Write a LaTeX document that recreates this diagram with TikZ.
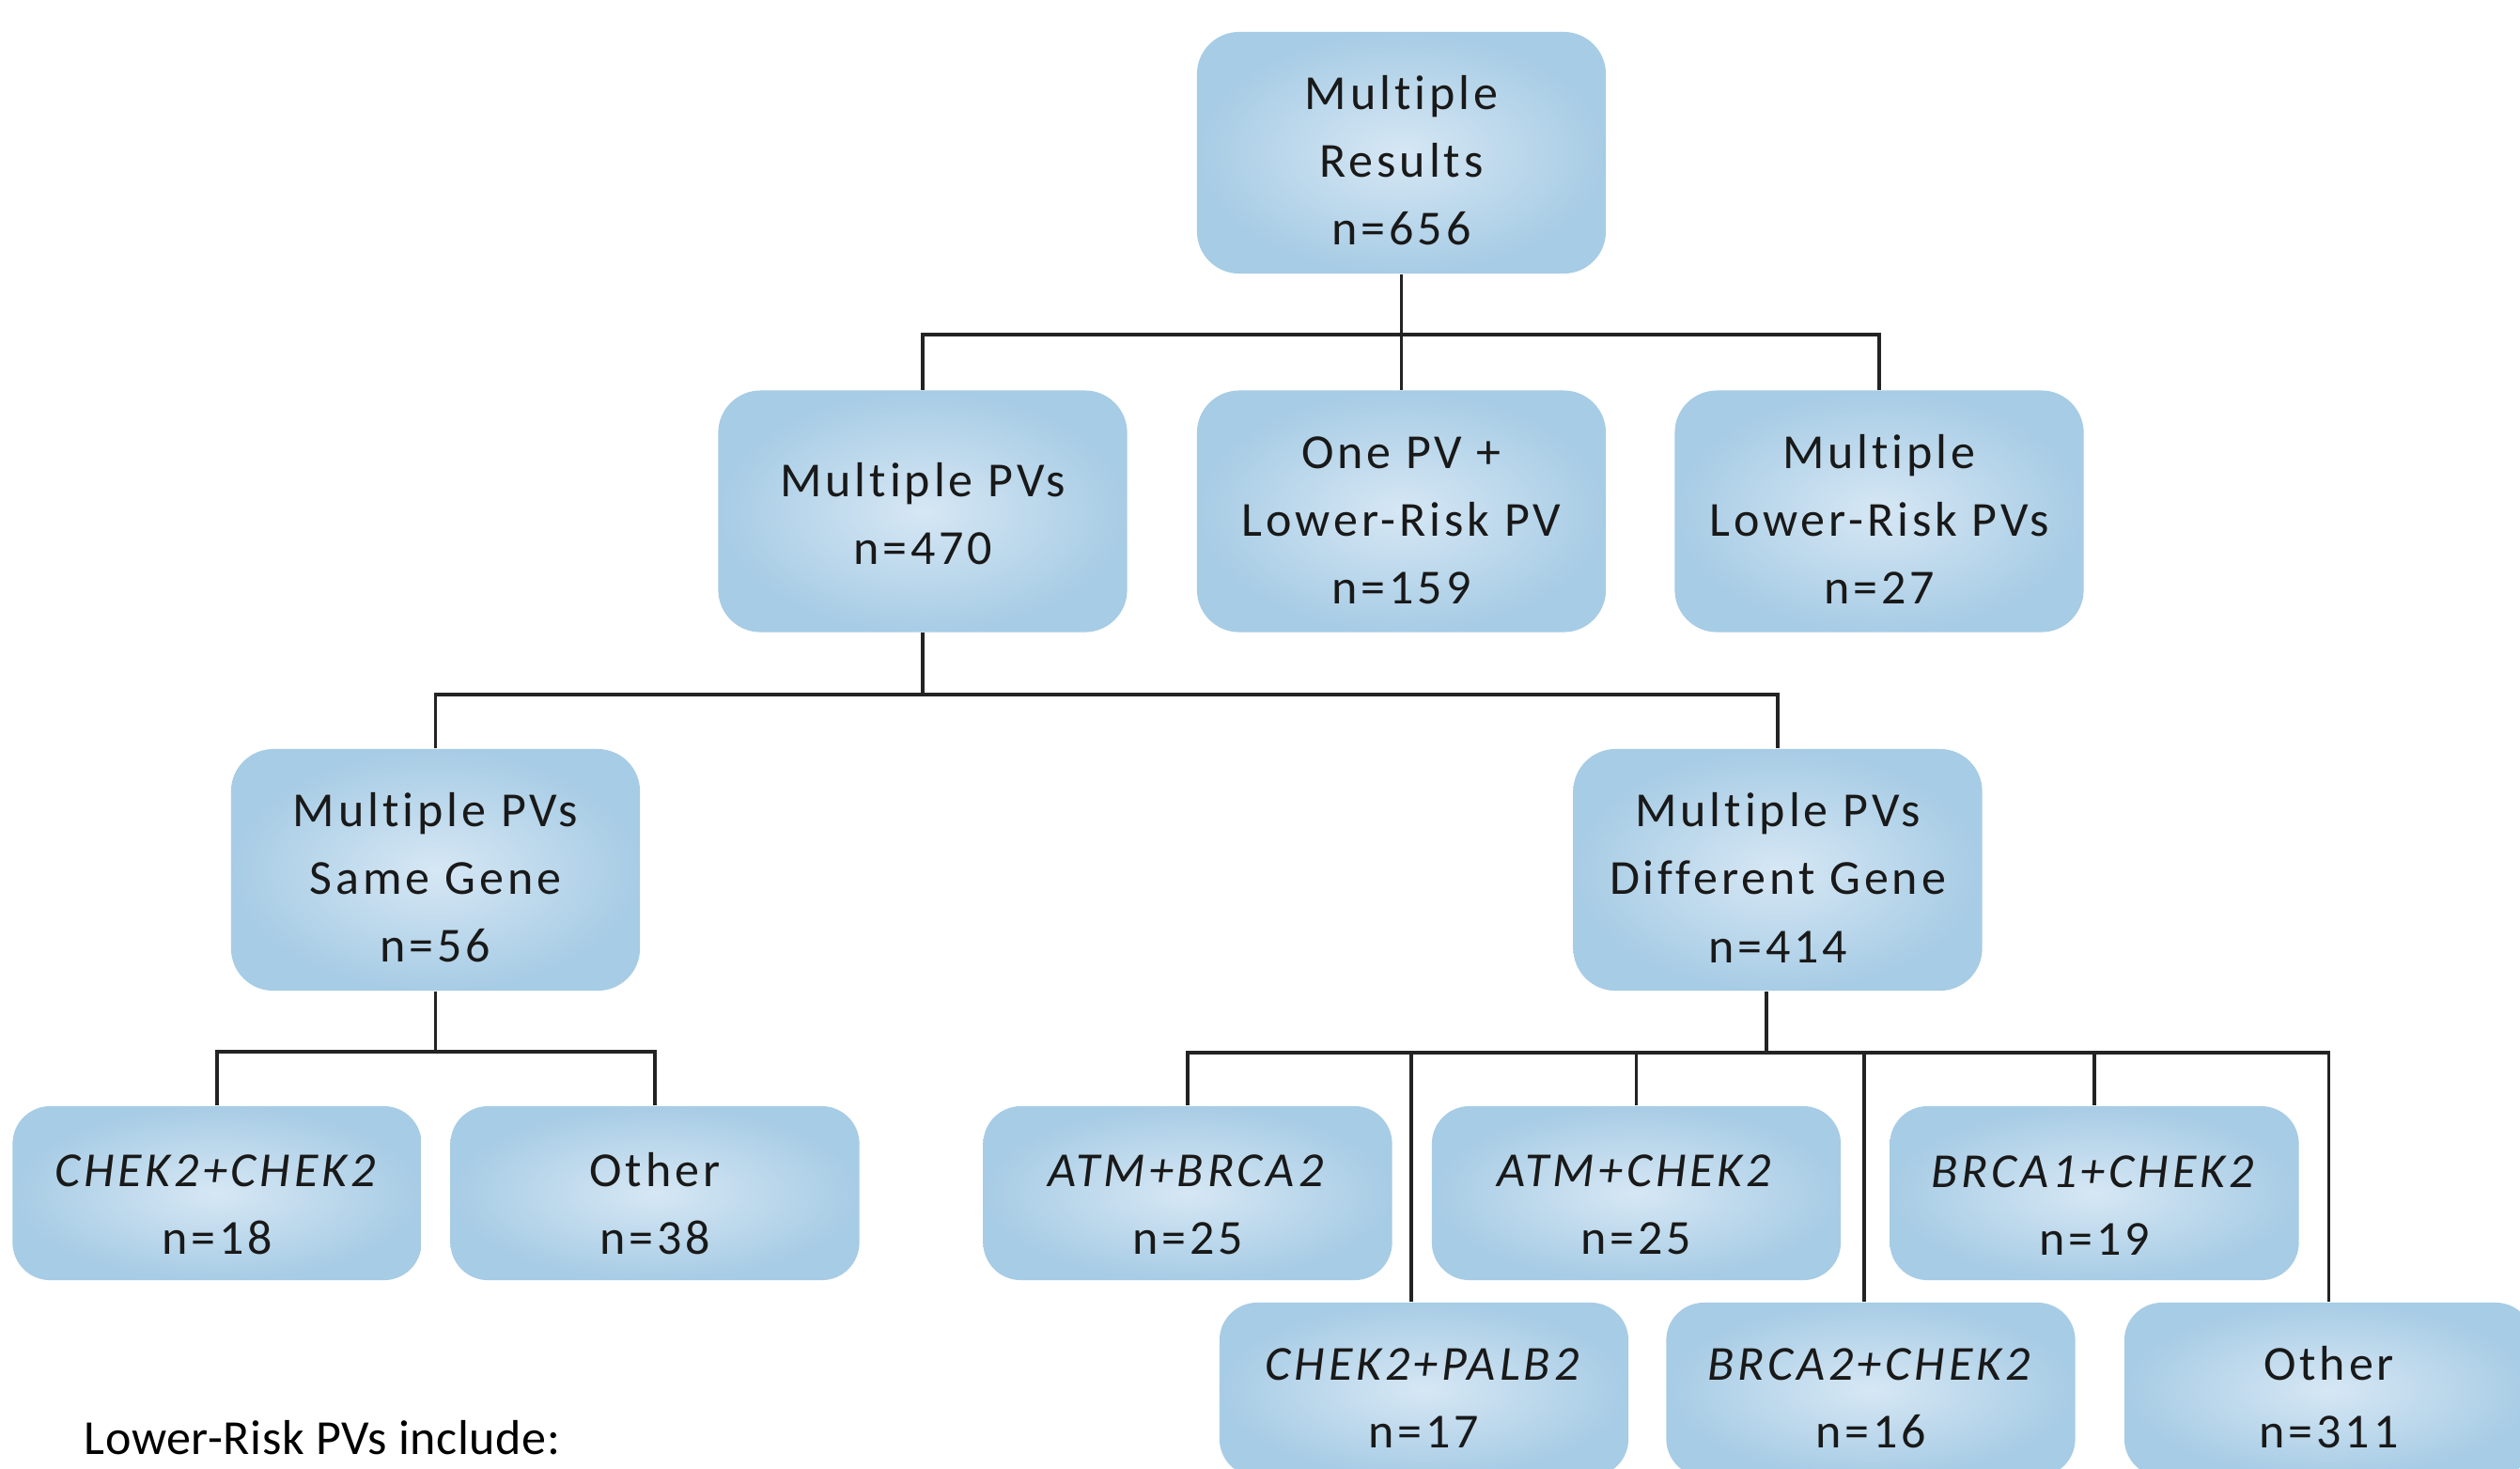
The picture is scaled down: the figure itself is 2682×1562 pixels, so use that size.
\documentclass[tikz,border=0pt]{standalone}
\usepackage{fontspec}
\setmainfont{Carlito}
\newfontfamily\boxfont[LetterSpace=7.5,Ligatures={NoCommon}]{Carlito}
\newfontfamily\notefont[LetterSpace=1.2,Ligatures={NoCommon}]{Carlito}
\usetikzlibrary{calc}
\definecolor{bxin}{HTML}{D6E7F4}
\definecolor{bxout}{HTML}{A7CCE5}
\definecolor{ln}{HTML}{232323}
\newcommand{\tup}[1]{\rule{0pt}{#1}}
\tikzset{
  box/.style={rounded corners=0.45cm, shading=radial, inner color=bxin, outer color=bxout,
    minimum width=4.35cm, minimum height=2.57cm, align=center,
    font=\boxfont\fontsize{14.8}{20.5}\selectfont, text=black!90, inner sep=0pt},
  sbox/.style={box, minimum height=1.85cm, rounded corners=0.4cm},
  conn/.style={draw=ln, line width=0.95pt},
  note/.style={font=\notefont\fontsize{14.8}{20.5}\selectfont, text=black, inner sep=0pt},
}
\begin{document}
\begin{tikzpicture}[x=0.01cm,y=-0.01cm]
\clip (0,0) rectangle (2682,1562);
\fill[white] (0,0) rectangle (2682,1562);
% nodes
\node[box] (top) at (1491.5,162.5) {\tup{15pt}Multiple\\Results\\n=656};
\node[box] (pvs) at (982,544) {\tup{11.5pt}Multiple PVs\\n=470};
\node[box] (onepv) at (1491.5,544) {\tup{15pt}One PV +\\Lower-Risk PV\\n=159};
\node[box] (lrpv) at (2000,544) {\tup{15pt}Multiple\\Lower-Risk PVs\\n=27};
\node[box] (same) at (463.5,925.5) {\tup{15pt}Multiple PVs\\Same Gene\\n=56};
\node[box] (diff) at (1892,925.5) {\tup{15pt}Multiple PVs\\Different Gene\\n=414};
\node[sbox] (cc) at (231,1269.5) {\tup{16.8pt}\textit{CHEK2+CHEK2}\\n=18};
\node[sbox] (oth1) at (697,1269.5) {\tup{16.8pt}Other\\n=38};
\node[sbox] (ab) at (1264,1269.5) {\tup{16.8pt}\textit{ATM+BRCA2}\\n=25};
\node[sbox] (ac) at (1741.5,1269.5) {\tup{16.8pt}\textit{ATM+CHEK2}\\n=25};
\node[sbox] (b1c) at (2229,1269.5) {\tup{16.8pt}\textit{BRCA1+CHEK2}\\n=19};
\node[sbox] (cp) at (1515.5,1478.5) {\tup{15pt}\textit{CHEK2+PALB2}\\n=17};
\node[sbox] (b2c) at (1991,1478.5) {\tup{15pt}\textit{BRCA2+CHEK2}\\n=16};
\node[sbox] (oth2) at (2478.5,1478.5) {\tup{15pt}Other\\n=311};
\node[note, anchor=base west] (lr) at (89,1547) {Lower-Risk PVs include:};
% connectors
\coordinate (j1) at (1491.5,356);
\draw[conn] (top.south) -- (onepv.north);
\draw[conn] (pvs.north) |- (j1) -| (lrpv.north);
\coordinate (j2) at (982,739);
\draw[conn] (pvs.south) -- (j2);
\draw[conn] (same.north) |- (j2) -| (diff.north);
\coordinate (j3) at (463.5,1119);
\draw[conn] (same.south) -- (j3);
\draw[conn] (cc.north) |- (j3) -| (oth1.north);
\coordinate (j4) at (1880,1120);
\draw[conn] (j4 |- diff.south) -- (j4);
\draw[conn] (ab.north) |- (j4) -| (oth2.north);
\coordinate (d1) at (1502,1120);
\draw[conn] (d1) -- (d1 |- cp.north);
\draw[conn] (j4 -| ac.north) -- (ac.north);
\coordinate (d2) at (1984,1120);
\draw[conn] (d2) -- (d2 |- b2c.north);
\draw[conn] (j4 -| b1c.north) -- (b1c.north);
\end{tikzpicture}
\end{document}
